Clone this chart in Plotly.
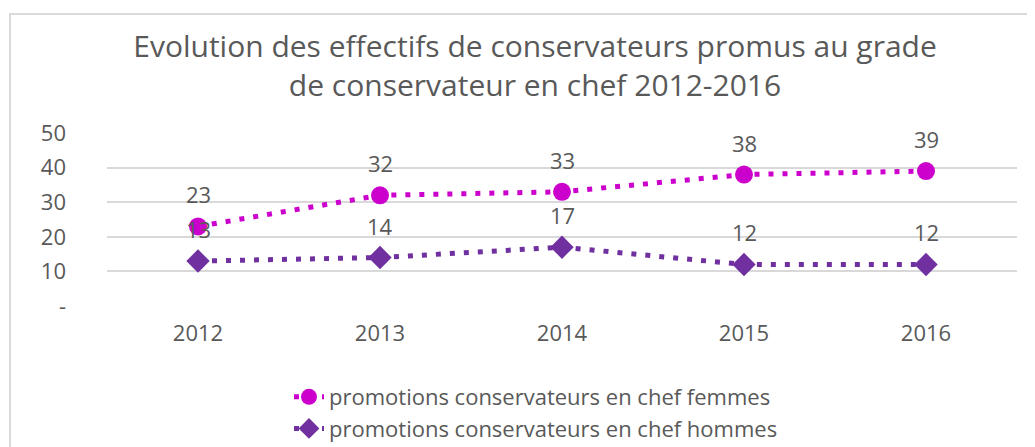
import plotly.graph_objects as go

years = ["2012", "2013", "2014", "2015", "2016"]
femmes = [23, 32, 33, 38, 39]
hommes = [13, 14, 17, 12, 12]
y_tickvals = [0, 10, 20, 30, 40, 50]
y_ticktext = ["-", "10", "20", "30", "40", "50"]

name_f = "promotions conservateurs en chef femmes"
name_h = "promotions conservateurs en chef hommes"
title = "Evolution des effectifs de conservateurs promus au grade<br>de conservateur en chef 2012-2016"

C_F = "#CC00CC"
C_H = "#7030A0"
TXT = "#595959"
FONT = "Open Sans"

OFF = 8  # page body margin
W, H = 1035, 447
PL = 107 - OFF
PT = 133 - OFF
PR = W - (1017 - OFF)
PB = H - (306 - OFF)
pw = W - PL - PR
ph = H - PT - PB


def px_x(px):
    return (px - OFF - PL) / pw


def px_y(py):
    return (H - PB - (py - OFF)) / ph


fig = go.Figure()
fig.add_trace(go.Scatter(
    x=years, y=femmes, name=name_f, mode="lines+markers",
    line=dict(color=C_F, width=5, dash="5px,9px"),
    marker=dict(symbol="circle", size=18, color=C_F),
))
fig.add_trace(go.Scatter(
    x=years, y=hommes, name=name_h, mode="lines+markers",
    line=dict(color=C_H, width=5, dash="5px,9px"),
    marker=dict(symbol="diamond", size=18, color=C_H),
))

for series in (femmes, hommes):
    for i, v in enumerate(series):
        fig.add_annotation(x=i, y=v, xref="x", yref="y", text=str(v),
                           showarrow=False, yshift=32,
                           font=dict(family=FONT, size=22, color=TXT))

# chart border (top + left visible)
fig.add_shape(type="rect", xref="paper", yref="paper",
              x0=px_x(10), x1=px_x(1060), y0=px_y(480), y1=px_y(14),
              line=dict(color="#D9D9D9", width=2), fillcolor="rgba(0,0,0,0)", layer="below")

fig.update_layout(
    width=W, height=H,
    margin=dict(l=PL, r=PR, t=PT, b=PB, autoexpand=False),
    paper_bgcolor="white", plot_bgcolor="white",
    title=dict(text=title, x=527 / W, xref="container", xanchor="center",
               y=1 - 49 / H, yanchor="top",
               font=dict(family=FONT, size=30, color=TXT)),
    font=dict(family=FONT, size=22, color=TXT),
    showlegend=True,
    legend=dict(orientation="v", xref="paper", yref="paper",
                x=px_x(289), xanchor="left", y=px_y(376), yanchor="top",
                font=dict(family=FONT, size=22, color=TXT),
                bgcolor="rgba(0,0,0,0)", tracegroupgap=0),
    xaxis=dict(type="category", range=[-0.5, len(years) - 0.5], autorange=False,
               showgrid=False, zeroline=False, showline=False,
               ticks="", ticklabelstandoff=12,
               tickfont=dict(family=FONT, size=22, color=TXT)),
    yaxis=dict(range=[0, 50], tickvals=y_tickvals, ticktext=y_ticktext,
               showgrid=True, gridcolor="#D9D9D9", gridwidth=2,
               zeroline=False, showline=False, ticks="", ticklabelstandoff=40,
               tickfont=dict(family=FONT, size=22, color=TXT)),
)

fig.write_html("out.html")
